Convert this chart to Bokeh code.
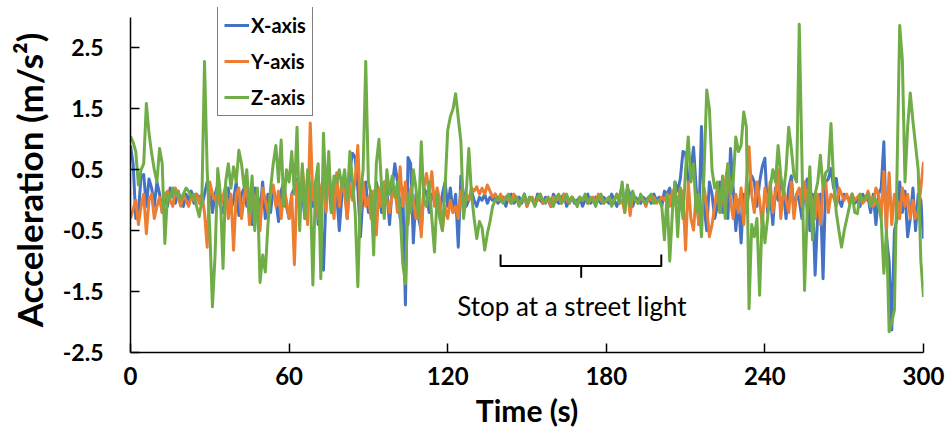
from bokeh.plotting import figure
from bokeh.models import ColumnDataSource, Range1d, FixedTicker, Legend, LegendItem, Label
from bokeh.embed import file_html
from bokeh.resources import INLINE

# ---------------- data ----------------
time_s = list(range(301))

x_axis = [
    0.9, 0.6, -0.3, -0.2, 0.4, 0.42, -0.1, 0.35, 0.2, -0.1, 0.3, 0.1, -0.2, 0.05, -0.1, 0.2, 0.1, -0.05, 0.15, 0.0,
    -0.1, 0.1, 0.0, 0.15, -0.05, 0.1, 0.05, -0.1, 0.1, 0.3, 0.2, -0.2, 0.1, 0.25, -0.1, -0.2, 0.1, 0.2, -0.15, 0.0,
    0.3, -0.25, 0.1, 0.2, -0.1, 0.05, -0.4, 0.2, 0.1, -0.2, 0.3, -0.3, 0.1, -0.2, 0.2, 0.0, -0.35, 0.15, 0.3, -0.1,
    -0.3, 0.1, 0.2, 0.35, -0.1, 0.1, -0.3, 0.2, 0.0, -0.1, 0.3, -0.4, -0.2, -1.15, 0.1, 0.3, -0.2, 0.2, 0.1, -0.5,
    0.1, 0.3, -0.3, 0.5, 0.77, 0.7, 0.2, -0.6, 0.1, 0.3, -0.2, 0.15, -0.4, 0.3, 0.1, -0.2, 0.3, 0.15, -0.4, 0.2,
    0.6, 0.3, -0.3, 0.2, -1.72, 0.7, 0.6, -0.7, 0.1, -0.3, -0.5, 0.2, 0.1, -0.2, 0.1, 0.0, 0.15, -0.2, 0.1, 0.3,
    -0.1, 0.2, -0.2, 0.1, -0.77, 0.4, 0.1, -0.1, 0.0, 0.15, 0.0, -0.1, 0.05, 0.0, 0.1, -0.05, 0.05, 0.0, 0.1, -0.05,
    0.0, 0.05, -0.1, 0.05, 0.1, -0.05, 0.0, 0.05, -0.05, 0.1, -0.1, 0.05, 0.0, -0.05, 0.1, 0.0, -0.05, 0.05, 0.0, -0.1,
    0.1, 0.0, -0.05, 0.05, 0.1, -0.1, 0.0, 0.05, -0.05, 0.0, 0.05, -0.1, 0.0, 0.1, -0.05, 0.0, 0.05, 0.0, -0.05, 0.05,
    0.0, -0.05, 0.1, 0.0, -0.1, 0.05, 0.25, -0.15, 0.2, 0.1, -0.1, 0.05, 0.0, -0.05, 0.05, 0.0, 0.05, -0.05, 0.1, 0.0,
    0.05, -0.1, 0.15, 0.1, 0.2, -0.1, 0.3, 0.15, 0.35, 0.8, 0.77, 0.3, 0.45, 0.87, 0.2, -0.4, 1.21, -0.1, -0.5, 0.3,
    0.1, -0.3, -0.1, 0.3, -0.2, 0.1, -0.3, 0.85, 0.2, -0.5, 0.0, -0.7, 0.1, -0.2, 0.2, 0.4, 0.3, -0.1, 0.3, 0.55,
    0.69, -0.2, 0.1, -0.4, 0.2, 0.0, 0.3, 0.15, -0.3, 0.2, 0.4, -0.2, 0.1, 0.0, -0.3, 0.2, 0.35, -0.5, 0.1, -1.23,
    -0.2, 0.1, -1.29, 0.3, 0.35, 0.52, 0.2, 0.36, 0.0, -0.1, 0.1, 0.05, 0.0, 0.1, -0.05, 0.0, -0.1, 0.1, 0.0, 0.05,
    -0.2, 0.1, -0.4, 0.1, 0.2, 0.96, -0.6, -1.0, -2.13, -0.5, -0.3, 0.3, -0.2, 0.15, -0.6, -0.3, 0.2, -0.5, 0.1, 0.0,
    -0.63,
]

y_axis = [
    -0.3, -0.15, 0.0, -0.4, -0.1, 0.1, -0.55, 0.0, 0.1, -0.3, -0.1, 0.05, -0.2, 0.1, 0.15, 0.0, -0.1, 0.2, 0.05, -0.1,
    0.1, 0.0, -0.1, 0.05, 0.0, 0.1, -0.05, 0.1, -0.2, -0.77, 0.3, 0.1, 0.0, 0.2, -0.1, 0.05, 0.25, -0.3, 0.1, -0.82,
    0.1, 0.2, -0.3, 0.05, 0.3, -0.4, 0.2, -0.1, 0.1, -0.5, 0.2, 0.0, -0.2, 0.1, 0.25, -0.1, 0.15, -0.3, 0.2, 0.0,
    -0.3, 0.1, -1.06, 0.3, -0.2, 0.52, 0.1, -0.4, 1.27, 0.0, 0.3, -0.3, 0.2, 0.35, -0.2, 0.5, 0.1, -0.3, 0.45, -0.1,
    0.3, 0.1, -0.3, 0.25, 0.0, 0.35, 0.9, -0.2, 0.3, -0.1, 0.05, -0.3, 0.15, -0.57, 0.2, -0.1, 0.3, 0.0, -0.2, 0.1,
    0.2, -0.2, 0.55, -0.1, 0.3, -0.4, 0.2, 0.0, -0.3, 0.1, -0.6, 0.2, 0.44, 0.1, 0.47, -0.1, 0.2, 0.0, -0.49, -0.1,
    -0.3, 0.0, -0.2, -0.1, -0.3, 0.15, -0.2, 0.1, 0.0, 0.2, 0.15, 0.22, 0.1, 0.2, 0.1, 0.25, 0.15, 0.05, 0.1, 0.0,
    0.1, 0.0, 0.05, 0.0, -0.05, 0.1, 0.05, -0.05, 0.0, 0.05, -0.1, 0.0, 0.05, -0.05, 0.0, 0.1, -0.05, 0.0, 0.05, -0.1,
    0.05, 0.0, 0.05, -0.05, 0.1, 0.0, -0.05, 0.05, 0.0, -0.1, 0.05, 0.0, 0.05, -0.05, 0.0, 0.05, -0.05, 0.1, 0.0, -0.05,
    0.0, 0.05, -0.05, 0.0, 0.1, -0.05, 0.0, -0.2, 0.2, -0.25, 0.1, 0.0, -0.05, 0.05, 0.0, -0.1, 0.05, 0.0, 0.05, -0.05,
    0.0, 0.05, 0.0, 0.1, -0.1, 0.15, 0.1, -0.05, 0.2, 0.1, -0.82, 0.3, -0.3, -0.49, 0.1, -0.4, -0.3, 0.2, -0.1, -0.6,
    -0.4, -0.1, 0.2, -0.2, 0.1, 0.3, 0.59, 0.0, -0.3, 0.1, -0.2, 0.2, -0.4, 0.3, 0.88, 0.1, -0.2, 0.3, 0.0, -0.4,
    0.2, -0.1, 0.3, -0.2, 0.1, 0.5, -0.3, 0.2, 0.0, -0.2, 0.3, -0.3, 0.1, 0.2, -0.1, 0.3, -0.2, 0.1, 0.0, -0.3,
    0.1, -0.4, 0.2, 0.3, -0.2, 0.1, 0.05, -0.1, 0.2, 0.1, 0.0, 0.1, -0.05, 0.1, 0.0, 0.05, 0.1, -0.05, 0.0, 0.15,
    0.0, -0.1, 0.2, 0.1, -0.3, 0.47, -0.5, 0.45, -0.4, 0.1, 0.0, -0.3, 0.2, -0.1, 0.1, -0.3, 0.0, -0.3, -0.2, 0.2,
    0.63,
]

z_axis = [
    1.05, 0.95, 0.8, 0.25, 0.5, 0.6, 1.59, 1.1, 0.77, 0.5, 0.3, 0.85, 0.6, -0.71, 0.1, 0.03, 0.2, 0.1, 0.15, 0.0,
    0.1, 0.2, 0.15, 0.05, 0.1, -0.1, -0.27, 0.0, 2.28, 0.5, -0.5, -1.75, -0.9, 0.52, 0.1, -1.12, 0.3, 0.6, 0.2, 0.55,
    0.3, 0.82, 0.6, 0.2, 0.5, -0.2, 0.4, -0.5, 0.2, -1.35, -0.9, -1.18, -0.4, 0.2, 0.6, 0.9, 0.3, 0.99, -0.1, 0.5,
    0.3, 0.8, 0.1, 1.2, -0.5, 0.6, -0.3, 0.5, 0.2, -1.39, 0.3, 0.6, -1.29, 1.1, 0.0, 0.8, -0.2, 0.4, 0.3, 0.5,
    0.2, 0.5, 0.0, 0.8, 0.3, -0.2, -1.42, 0.1, 0.5, 2.28, 0.3, 0.1, -0.9, 0.6, 1.0, 0.2, -0.3, 0.5, 0.1, 0.4,
    0.05, 0.3, -0.2, -1.04, -1.37, 0.1, -0.2, 0.5, 0.2, -0.3, 0.96, 0.0, -0.1, 0.3, -0.3, -0.85, 0.1, -0.3, -0.5, 0.2,
    1.15, 1.37, 1.5, 1.75, 1.35, 0.96, -0.3, 0.1, 0.85, 0.1, -0.3, -0.63, -0.35, -0.45, -0.82, -0.55, -0.35, -0.1, 0.0, 0.05,
    0.0, -0.05, 0.05, 0.1, -0.05, 0.0, 0.05, -0.1, 0.0, 0.1, -0.05, 0.05, 0.0, -0.1, 0.05, 0.1, 0.0, -0.05, 0.05, 0.0,
    -0.1, 0.05, 0.1, -0.05, 0.0, 0.1, -0.05, 0.05, 0.0, -0.1, 0.05, 0.0, 0.1, -0.05, 0.05, 0.0, -0.1, 0.05, 0.1, -0.05,
    0.0, 0.05, -0.1, 0.0, 0.1, -0.05, 0.3, -0.2, 0.25, -0.1, 0.15, 0.0, -0.05, 0.1, 0.0, -0.05, 0.05, 0.1, -0.05, 0.0,
    0.0, -0.1, -0.65, 0.1, -1.0, -0.2, 0.3, -0.6, 0.2, -0.3, 0.5, 1.04, 0.3, 0.6, -0.2, 0.1, -0.6, 0.5, 1.81, 1.5,
    0.5, 0.2, 0.3, -0.2, 0.4, -0.3, 0.6, 0.1, 0.3, 1.04, 0.8, 0.9, 1.45, 1.2, -1.78, -0.4, -0.6, -0.3, -1.56, -0.2,
    -0.7, -0.3, 0.2, 0.5, 0.3, 0.9, 0.4, 0.1, 0.5, 1.2, 0.85, 0.4, 0.3, 2.89, 0.7, -1.48, -0.2, 0.55, -0.65, 0.1,
    0.3, 0.74, 0.2, 0.45, 0.5, 1.26, 0.3, -0.2, -0.5, -0.77, -0.5, -0.3, -0.1, 0.1, -0.2, -0.22, 0.1, 0.0, 0.05, 0.1,
    -0.1, 0.05, 0.0, -0.1, -0.3, -1.2, -0.5, -2.16, -2.0, -1.8, 0.5, 2.87, 2.3, 0.3, 1.2, 1.76, 1.3, 0.9, 0.5, -1.0,
    -1.59,
]

series_names = ["X-axis", "Y-axis", "Z-axis"]
series_colors = ["#4472C4", "#ED7D31", "#70AD47"]

x_ticks = [0, 60, 120, 180, 240, 300]
y_ticks = [-2.5, -1.5, -0.5, 0.5, 1.5, 2.5]
y_tick_labels = ["-2.5", "-1.5", "-0.5", "0.5", "1.5", "2.5"]
y_min, y_max = -2.5, 3.0
y_view_top = 3.165   # a little head room above the axis so the legend box fits

# annotation: bracket marking the stop period
stop_text = "Stop at a street light"
bracket_t = [140, 140, 170.5, 170.5, 170.5, 200.8, 200.8]
bracket_v = [-0.89, -1.08, -1.08, -1.26, -1.08, -1.08, -0.89]
stop_text_t = 167
stop_text_v = -1.74

# ---------------- figure ----------------
source = ColumnDataSource(data=dict(t=time_s, x=x_axis, y=y_axis, z=z_axis))

p = figure(width=948, height=437, output_backend="svg", toolbar_location=None,
           x_range=Range1d(0, 300), y_range=Range1d(y_min, y_view_top),
           min_border_left=130, min_border_right=25, min_border_top=7, min_border_bottom=85)
p.background_fill_color = "white"
p.border_fill_color = "white"
p.outline_line_color = None
p.grid.visible = False

renderers = []
for col, color in zip(["x", "y", "z"], series_colors):
    r = p.line("t", col, source=source, line_width=3, line_color=color, line_join="round")
    renderers.append(r)

p.line(bracket_t, bracket_v, line_color="black", line_width=2, line_join="round")
p.add_layout(Label(x=stop_text_t, y=stop_text_v, text=stop_text, text_align="center",
                   text_baseline="middle", text_font="Lato", text_font_size="26px",
                   text_color="black"))

# axes
for ax in (p.xaxis[0], p.yaxis[0]):
    ax.axis_line_color = "black"
    ax.axis_line_width = 1.5
    ax.major_tick_line_color = "black"
    ax.major_tick_line_width = 1.5
    ax.major_tick_in = 9
    ax.major_tick_out = 0
    ax.minor_tick_line_color = None
    ax.major_label_text_font = "Lato"
    ax.major_label_text_font_style = "bold"
    ax.major_label_text_color = "black"
    ax.axis_label_text_font = "Lato"
    ax.axis_label_text_font_style = "bold"
    ax.axis_label_text_color = "black"

p.xaxis.ticker = FixedTicker(ticks=x_ticks)
p.xaxis.major_label_text_font_size = "24px"
p.xaxis.major_label_standoff = 14
p.xaxis.axis_label = "Time (s)"
p.xaxis.axis_label_text_font_size = "30px"
p.xaxis.axis_label_standoff = 4

p.yaxis.ticker = FixedTicker(ticks=y_ticks)
p.yaxis.bounds = (y_min, y_max)
p.yaxis.major_label_overrides = {t: l for t, l in zip(y_ticks, y_tick_labels)}
p.yaxis.major_label_text_font_size = "23px"
p.yaxis.major_label_standoff = 27
p.yaxis.axis_label = "Acceleration (m/s²)"
p.yaxis.axis_label_text_font_size = "35px"
p.yaxis.axis_label_standoff = 10

legend = Legend(items=[LegendItem(label=n, renderers=[r]) for n, r in zip(series_names, renderers)],
                location=(87, 236))
legend.border_line_color = "black"
legend.border_line_width = 1.5
legend.background_fill_color = "white"
legend.background_fill_alpha = 1.0
legend.label_text_font = "Lato"
legend.label_text_font_style = "bold"
legend.label_text_font_size = "20px"
legend.label_text_color = "black"
legend.glyph_width = 25
legend.glyph_height = 20
legend.label_height = 20
legend.label_standoff = 2
legend.spacing = 12
legend.padding = 6
legend.margin = 0
p.add_layout(legend)

open("out.html", "w").write(file_html(p, INLINE))
